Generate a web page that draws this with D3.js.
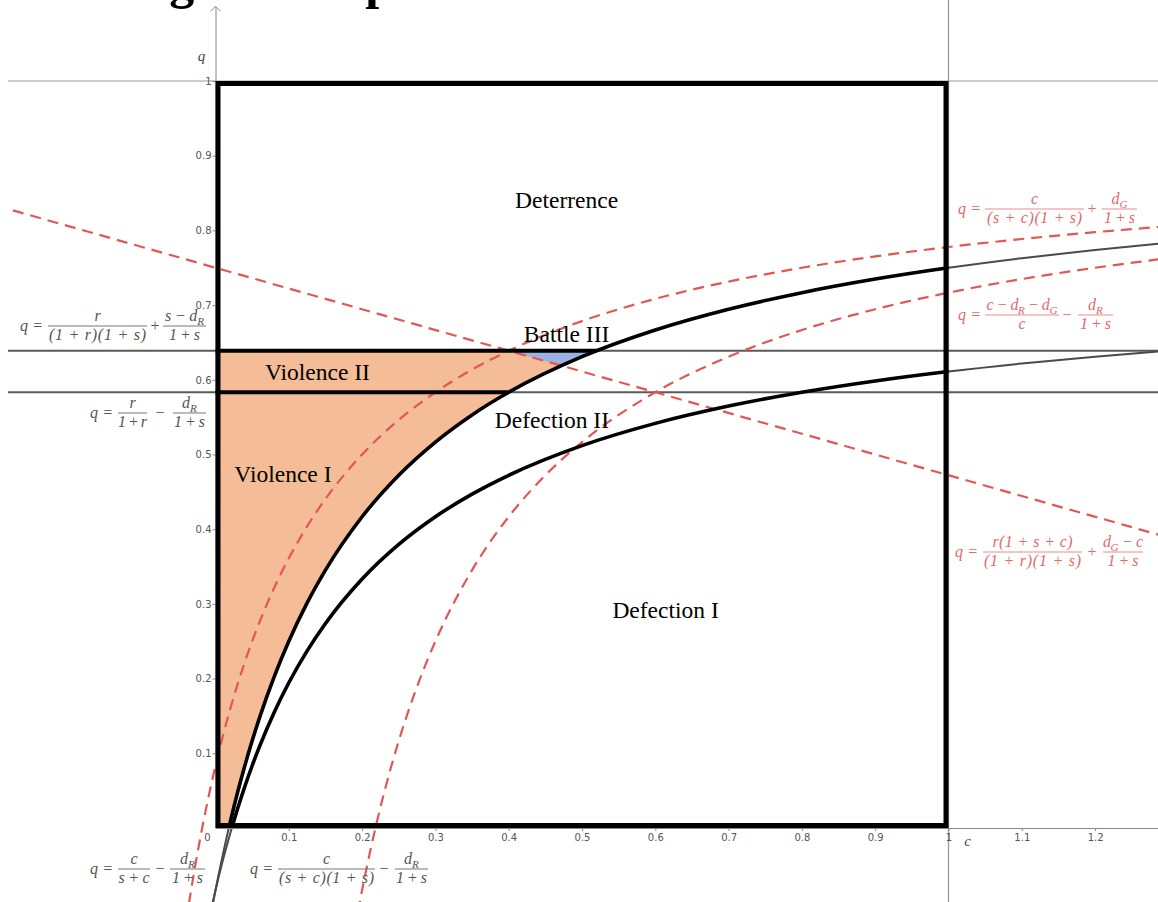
<!DOCTYPE html>
<html><head><meta charset="utf-8">
<script src="https://cdn.jsdelivr.net/npm/d3@7"></script>
<style>body{margin:0;background:#fff;} svg{display:block;}</style>
</head><body>
<svg id="chart" width="1158" height="902"></svg>
<script>
// ---------- data ----------
// upper solid curve  q = c/(s+c) - dR/(1+s)
const cA = [-0.004,-0.002,0,0.01,0.02,0.03,0.04,0.05,0.06,0.08,0.1,0.125,0.15,0.2,0.25,0.3,0.35,0.4,0.5,0.6,0.7,0.8,0.9,1.0,1.1,1.2,1.3];
const qA = [-0.10374,-0.09343,-0.08333,-0.03571,0.00758,0.0471,0.08333,0.11667,0.14744,0.20238,0.25,0.30128,0.34524,0.41667,0.47222,0.51667,0.55303,0.58333,0.63095,0.66667,0.69444,0.71667,0.73485,0.75,0.76282,0.77381,0.78333];
// lower solid curve  q = c/((s+c)(1+s)) - dR/(1+s)   (same c values)
const qB = [-0.10034,-0.09175,-0.08333,-0.04365,-0.00758,0.02536,0.05556,0.08333,0.10897,0.15476,0.19444,0.23718,0.27381,0.33333,0.37963,0.41667,0.44697,0.47222,0.51190,0.54167,0.56481,0.58333,0.59848,0.61111,0.62179,0.63095,0.63889];
// red dashed  q = c/((s+c)(1+s)) + dG/(1+s)
const cR1 = [-0.04,-0.03,-0.02,-0.01,0,0.01,0.02,0.03,0.04,0.05,0.06,0.08,0.1,0.125,0.15,0.2,0.25,0.3,0.35,0.4,0.5,0.6,0.7,0.8,0.9,1.0,1.1,1.2,1.3];
const qR1 = [-0.125,-0.06373,-0.00926,0.03947,0.08333,0.12302,0.15909,0.19203,0.22222,0.25,0.27564,0.32143,0.36111,0.40385,0.44048,0.5,0.5463,0.58333,0.61364,0.63889,0.67857,0.70833,0.73148,0.75,0.76515,0.77778,0.78846,0.79762,0.80556];
// red dashed  q = (c-dR-dG)/c - dR/(1+s)
const cR2 = [0.19,0.2,0.21,0.22,0.23,0.24,0.26,0.28,0.3,0.35,0.4,0.45,0.5,0.6,0.7,0.8,0.9,1.0,1.1,1.2,1.3];
const qR2 = [-0.13596,-0.08333,-0.03571,0.00758,0.0471,0.08333,0.14744,0.20238,0.25,0.34524,0.41667,0.47222,0.51667,0.58333,0.63095,0.66667,0.69444,0.71667,0.73485,0.75,0.76282];
// red dashed straight line  q = r(1+s+c)/((1+r)(1+s)) + (dG-c)/(1+s)
const cR3 = [-0.3, 1.3];
const qR3 = [0.83333, 0.38889];
// horizontal lines and where they meet the upper curve
const hLines = [0.63889, 0.58333];
const hEnds = [0.52, 0.4];
// Battle III triangle
const battle3 = [[0.4,0.63889],[0.52,0.63889],[0.4715,0.619]];
const xTicks = [0.1,0.2,0.3,0.4,0.5,0.6,0.7,0.8,0.9,1,1.1,1.2];
const yTicks = [0.1,0.2,0.3,0.4,0.5,0.6,0.7,0.8,0.9,1];
const regionLabels = [
  {t:"Deterrence", c:0.479, q:0.83},
  {t:"Battle III", c:0.479, q:0.6505},
  {t:"Violence II", c:0.139, q:0.6},
  {t:"Defection II", c:0.459, q:0.5355},
  {t:"Violence I", c:0.092, q:0.4635},
  {t:"Defection I", c:0.614, q:0.2805}
];

// ---------- scales ----------
const W = 1158, H = 902;
const x = d3.scaleLinear().domain([0,1]).range([215.5, 948.5]);
const y = d3.scaleLinear().domain([0,1]).range([828, 81]);
const svg = d3.select("#chart");
const defs = svg.append("defs");
defs.append("clipPath").attr("id","cView").append("rect")
  .attr("x",8).attr("y",0).attr("width",W-8).attr("height",H);
defs.append("clipPath").attr("id","cBox").append("rect")
  .attr("x",x(0)).attr("y",y(1)).attr("width",x(1)-x(0)).attr("height",y(0)-y(1));
defs.append("clipPath").attr("id","cOrange").append("rect")
  .attr("x",x(0)).attr("y",y(hLines[0])).attr("width",x(1)-x(0)).attr("height",y(0)-y(hLines[0]));

const cMax = x.invert(W);
const line = d3.line().curve(d3.curveMonotoneX);
const pts = (cs, qs) => cs.map((c,i) => [x(c), y(qs[i])]);

// ---------- fills ----------
const idx = d3.range(cA.length).filter(i => cA[i] <= 0.6);
svg.append("path")
  .attr("clip-path","url(#cOrange)")
  .attr("fill","#f5bd97")
  .attr("d", d3.area().curve(d3.curveMonotoneX)
    .x(i => x(cA[i])).y0(i => y(qA[i])).y1(y(hLines[0]))(idx));
svg.append("path")
  .attr("fill","#9bb2e2")
  .attr("d", d3.line()(battle3.map(p => [x(p[0]), y(p[1])])) + "Z");

// ---------- thin grey lines & axes ----------
const view = svg.append("g").attr("clip-path","url(#cView)");
view.append("line").attr("x1",8).attr("x2",W).attr("y1",y(1)).attr("y2",y(1))
  .attr("stroke","#999").attr("stroke-width",1);
view.append("line").attr("x1",x(1)).attr("x2",x(1)).attr("y1",0).attr("y2",H)
  .attr("stroke","#999").attr("stroke-width",1.3);

const xAxisScale = d3.scaleLinear().domain([0, cMax]).range([x(0), W]);
const gx = svg.append("g").attr("transform",`translate(0,${y(0)})`)
  .call(d3.axisBottom(xAxisScale).tickValues(xTicks).tickSize(3).tickSizeOuter(0).tickPadding(3).tickFormat(d => String(d)));
const yAxisScale = d3.scaleLinear().domain([0, 1.1]).range([y(0), y(1.1)]);
const gy = svg.append("g").attr("transform",`translate(${x(0)},0)`)
  .call(d3.axisLeft(yAxisScale).tickValues(yTicks).tickSize(3).tickSizeOuter(0).tickPadding(1).tickFormat(d => String(d)));
[gx, gy].forEach(g => {
  g.select(".domain").attr("stroke","#888");
  g.selectAll(".tick line").attr("stroke","#888");
  g.selectAll(".tick text").attr("fill","#555").attr("font-size",10)
    .attr("font-family","'DejaVu Sans', sans-serif");
});
gy.append("path").attr("d",`M-5,${y(1.1)+5}L0,${y(1.1)}L5,${y(1.1)+5}`)
  .attr("fill","none").attr("stroke","#888");
svg.append("text").attr("x",x(0)-8).attr("y",y(0)+13).attr("text-anchor","middle")
  .attr("font-size",10).attr("fill","#555").attr("font-family","'DejaVu Sans', sans-serif").text("0");
svg.append("text").attr("x",x(0)-14).attr("y",y(1)-20).attr("text-anchor","middle")
  .attr("font-size",15).attr("font-style","italic").attr("fill","#444")
  .attr("font-family","'Liberation Serif', serif").text("q");
svg.append("text").attr("x",x(1)+19).attr("y",y(0)+18).attr("text-anchor","middle")
  .attr("font-size",15).attr("font-style","italic").attr("fill","#444")
  .attr("font-family","'Liberation Serif', serif").text("c");

// horizontal dark grey lines
hLines.forEach(h => view.append("line").attr("x1",8).attr("x2",W).attr("y1",y(h)).attr("y2",y(h))
  .attr("stroke","#5a5a5a").attr("stroke-width",2));
// solid curves (thin, full range)
[qA, qB].forEach(qs => view.append("path").attr("d", line(pts(cA, qs)))
  .attr("fill","none").attr("stroke","#4a4a4a").attr("stroke-width",2));
// red dashed
[[cR1,qR1],[cR2,qR2],[cR3,qR3]].forEach(([cs,qs]) => view.append("path")
  .attr("d", line(pts(cs, qs))).attr("fill","none")
  .attr("stroke","#e35656").attr("stroke-width",2.2).attr("stroke-dasharray","11,7"));

// thick black boundaries inside the box
const box = svg.append("g").attr("clip-path","url(#cBox)");
[qA, qB].forEach(qs => box.append("path").attr("d", line(pts(cA, qs)))
  .attr("fill","none").attr("stroke","#000").attr("stroke-width",3.6));
hLines.forEach((h,i) => svg.append("line").attr("x1",x(0)).attr("x2",x(hEnds[i]))
  .attr("y1",y(h)).attr("y2",y(h)).attr("stroke","#000").attr("stroke-width",4));
svg.append("rect").attr("x",x(0)+2.5).attr("y",y(1)+2.5)
  .attr("width",x(1)-x(0)-5).attr("height",y(0)-y(1)-5)
  .attr("fill","none").attr("stroke","#000").attr("stroke-width",5);

// ---------- region labels ----------
regionLabels.forEach(l => svg.append("text").attr("x",x(l.c)).attr("y",y(l.q))
  .attr("text-anchor","middle").attr("font-size",23.5)
  .attr("font-family","'Liberation Serif','Times New Roman',serif").attr("fill","#000").text(l.t));

// title (cut off at the top edge in the reference)
svg.append("text").attr("x",111).attr("y",-2).attr("font-size",50).attr("font-weight","bold")
  .attr("font-family","'Liberation Serif','Times New Roman',serif").attr("fill","#000").text("Regions Map");

// ---------- formula labels ----------
function mathText(g, px, py, str, anchor, len, color) {
  const t = g.append("text").attr("x",px).attr("y",py).attr("text-anchor",anchor)
    .attr("font-size",16).attr("font-style","italic").attr("fill",color)
    .attr("font-family","'Liberation Serif','DejaVu Serif',serif");
  const parts = str.split(/(d_[RG])/).filter(s => s.length);
  let shifted = false;
  parts.forEach(p => {
    if (/^d_[RG]$/.test(p)) {
      t.append("tspan").attr("dy", shifted ? -4 : 0).text("d");
      t.append("tspan").attr("font-size","70%").attr("dy",4).text(p[2]);
      shifted = true;
    } else {
      t.append("tspan").attr("dy", shifted ? -4 : 0).text(p);
      shifted = false;
    }
  });
  if (len) t.attr("textLength",len).attr("lengthAdjust","spacing");
}
const formulas = [
  {col:"#555", bar:"#777", b:326, q:20, parts:[
    {f:[48,147], num:"r", den:"(1 + r)(1 + s)", dl:97},
    {op:"+", x:155},
    {f:[163,206], num:"s − d_R", den:"1 + s", nl:39, dl:31}]},
  {col:"#555", bar:"#777", b:413, q:90, parts:[
    {f:[118,147], num:"r", den:"1 + r", dl:29},
    {op:"−", x:160},
    {f:[173,206], num:"d_R", den:"1 + s", dl:31}]},
  {col:"#555", bar:"#777", b:869, q:90, parts:[
    {f:[118,150], num:"c", den:"s + c", dl:31}, 
    {op:"−", x:160},
    {f:[170,205], num:"d_R", den:"1 + s", dl:31}]},
  {col:"#555", bar:"#777", b:869, q:250, parts:[
    {f:[278,375], num:"c", den:"(s + c)(1 + s)", dl:95},
    {op:"−", x:384},
    {f:[395,428], num:"d_R", den:"1 + s", dl:31}]},
  {col:"#e26a6a", bar:"#eb8a8a", b:209, q:958, parts:[
    {f:[985,1084], num:"c", den:"(s + c)(1 + s)", dl:95},
    {op:"+", x:1092},
    {f:[1102,1137], num:"d_G", den:"1 + s", dl:31}]},
  {col:"#e26a6a", bar:"#eb8a8a", b:315, q:958, parts:[
    {f:[985,1059], num:"c − d_R − d_G", den:"c", nl:71},
    {op:"−", x:1067},
    {f:[1078,1113], num:"d_R", den:"1 + s", dl:31}]},
  {col:"#e26a6a", bar:"#eb8a8a", b:552, q:955, parts:[
    {f:[983,1082], num:"r(1 + s + c)", den:"(1 + r)(1 + s)", nl:80, dl:97},
    {op:"+", x:1092},
    {f:[1103,1143], num:"d_G − c", den:"1 + s", nl:40, dl:31}]}
];
const lab = svg.append("g");
formulas.forEach(F => {
  mathText(lab, F.q, F.b+5, "q =", "start", 23, F.col);
  F.parts.forEach(p => {
    if (p.op) { mathText(lab, p.x, F.b+5, p.op, "middle", null, F.col); return; }
    lab.append("line").attr("x1",p.f[0]).attr("x2",p.f[1]).attr("y1",F.b).attr("y2",F.b)
      .attr("stroke",F.bar).attr("stroke-width",1);
    const cx = (p.f[0]+p.f[1])/2;
    mathText(lab, cx, F.b-5, p.num, "middle", p.nl, F.col);
    mathText(lab, cx, F.b+14, p.den, "middle", p.dl, F.col);
  });
});
</script>
</body></html>
